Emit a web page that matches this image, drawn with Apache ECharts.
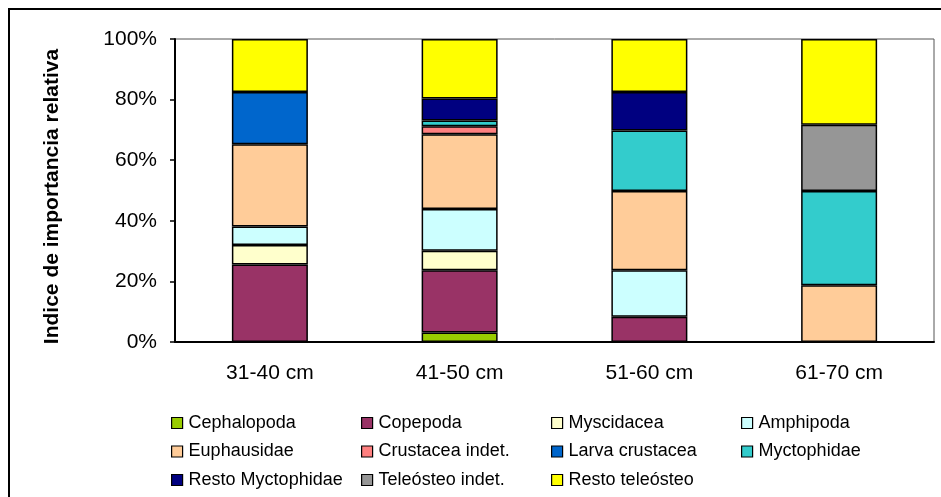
<!DOCTYPE html>
<html>
<head>
<meta charset="utf-8">
<script src="https://cdn.jsdelivr.net/npm/echarts@6/dist/echarts.min.js"></script>
<style>
  html, body { margin: 0; padding: 0; background: #fff; }
  #container { width: 941px; height: 497px; }
</style>
</head>
<body>
<div id="container"></div>
<script>
// function: Indice de importancia relativa por clase de talla

const categories = ["31-40 cm", "41-50 cm", "51-60 cm", "61-70 cm"];
const yTicks = [0, 20, 40, 60, 80, 100];

// stacked from bottom to top, one array per prey item (%)
const cephalopoda = [0, 3.1, 0, 0];
const copepoda = [25.6, 20.6, 8.3, 0];
const myscidacea = [6.4, 6.4, 0, 0];
const amphipoda = [6.1, 13.8, 15.4, 0];
const euphausidae = [27.2, 24.7, 26.1, 18.7];
const crustaceaIndet = [0, 2.6, 0, 0];
const larvaCrustacea = [17.2, 0, 0, 0];
const myctophidae = [0, 1.9, 20.0, 31.1];
const restoMyctophidae = [0, 7.3, 12.7, 0];
const teleosteoIndet = [0, 0, 0, 21.9];
const restoTeleosteo = [17.5, 19.6, 17.5, 28.3];

const seriesNames = [
  "Cephalopoda", "Copepoda", "Myscidacea", "Amphipoda",
  "Euphausidae", "Crustacea indet.", "Larva crustacea", "Myctophidae",
  "Resto Myctophidae", "Teleósteo indet.", "Resto teleósteo"
];
const seriesData = [
  cephalopoda, copepoda, myscidacea, amphipoda,
  euphausidae, crustaceaIndet, larvaCrustacea, myctophidae,
  restoMyctophidae, teleosteoIndet, restoTeleosteo
];
const seriesColors = [
  "#99CC00", "#993366", "#FFFFCC", "#CCFFFF",
  "#FFCC99", "#FF8080", "#0066CC", "#33CCCC",
  "#000080", "#969696", "#FFFF00"
];

const fontFam = "'Liberation Sans', Arial, sans-serif";
let myChart = echarts.init(document.getElementById("container")),
  series = [],
  legends = [];

for (let s = 0; s < seriesNames.length; s++) {
  series.push({
    name: seriesNames[s],
    type: "bar",
    stack: "total",
    barWidth: 76,
    itemStyle: {
      color: seriesColors[s],
      borderColor: "#000",
      borderWidth: 1.5
    },
    emphasis: { disabled: true },
    data: seriesData[s].map(function (v) { return v > 0 ? v : "-"; })
  });
  legends.push({
    data: [seriesNames[s]],
    left: 171 + (s % 4) * 190,
    top: 413 + Math.floor(s / 4) * 28.5,
    itemWidth: 11,
    itemHeight: 11,
    itemGap: 0,
    padding: 0,
    icon: "rect",
    selectedMode: false,
    itemStyle: { borderColor: "#000", borderWidth: 1.2 },
    textStyle: {
      fontFamily: fontFam,
      fontSize: 18,
      lineHeight: 20,
      color: "#000",
      padding: [0, 0, 0, 1]
    }
  });
}

let option = {
  animation: false,
  backgroundColor: "#fff",
  textStyle: { fontFamily: fontFam },
  legend: legends,
  grid: {
    left: 175,
    right: 7,
    top: 39,
    height: 303,
    show: true,
    borderColor: "#555",
    borderWidth: 1
  },
  xAxis: {
    type: "category",
    data: categories,
    axisLine: { lineStyle: { color: "#000", width: 2 } },
    axisTick: { length: 7, lineStyle: { color: "#000", width: 1.5 } },
    axisLabel: {
      margin: 21,
      fontSize: 21,
      color: "#000",
      fontFamily: fontFam
    }
  },
  yAxis: {
    type: "value",
    min: 0,
    max: 100,
    interval: 20,
    name: "Indice de importancia relativa",
    nameLocation: "middle",
    nameGap: 112,
    nameTextStyle: {
      fontSize: 21,
      fontWeight: "bold",
      color: "#000",
      fontFamily: fontFam,
      padding: [0, 12, 0, 0]
    },
    splitLine: { show: false },
    axisLine: { show: true, lineStyle: { color: "#000", width: 2 } },
    axisTick: { show: true, length: 5, lineStyle: { color: "#000", width: 1.5 } },
    axisLabel: {
      margin: 18,
      fontSize: 21,
      color: "#000",
      fontFamily: fontFam,
      formatter: function (v) { return yTicks.indexOf(v) >= 0 ? v + "%" : ""; }
    }
  },
  graphic: [
    {
      type: "rect",
      shape: { x: 9, y: 9, width: 960, height: 520 },
      style: { fill: "none", stroke: "#000", lineWidth: 2 },
      silent: true
    }
  ],
  series: series
};

if (option && typeof option === "object") {
  myChart.setOption(option);
}
</script>
</body>
</html>
